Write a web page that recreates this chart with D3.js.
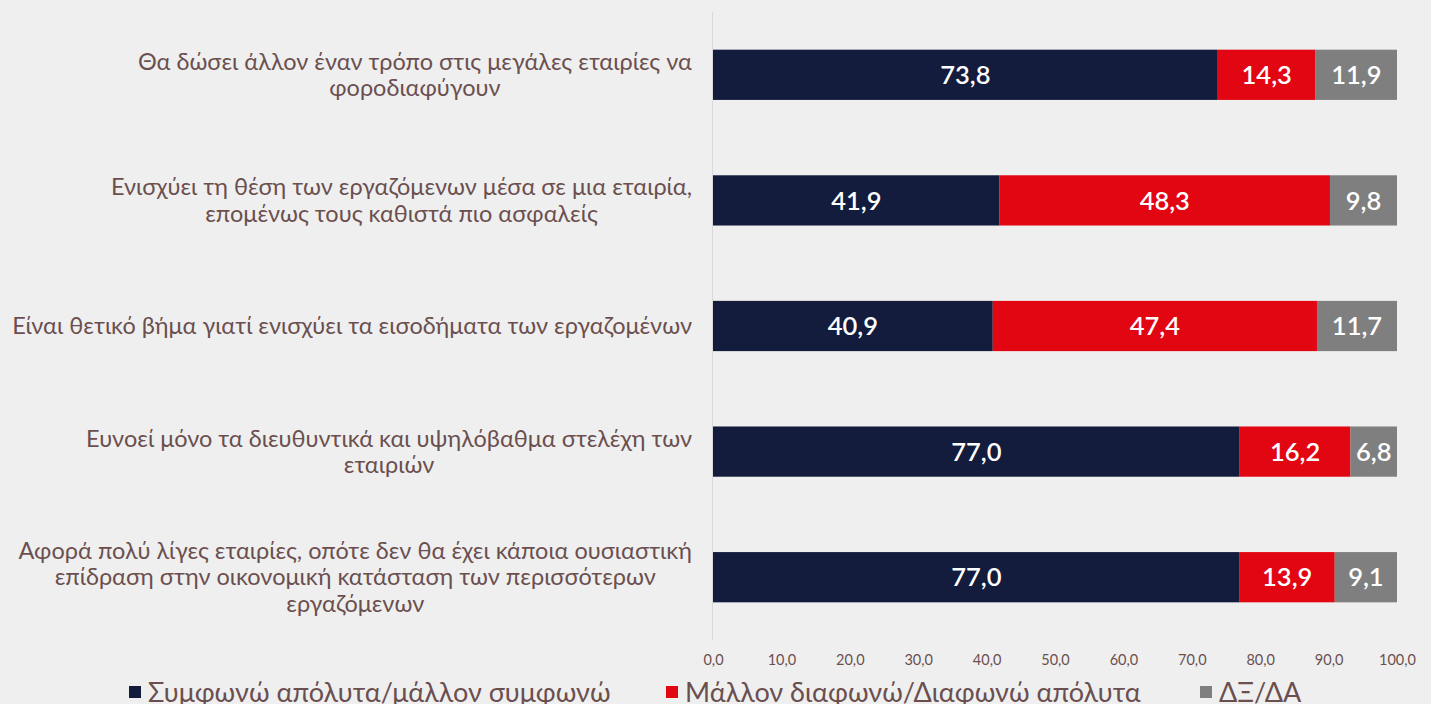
<!DOCTYPE html>
<html><head><meta charset="utf-8">
<script src="https://cdn.jsdelivr.net/npm/d3@7"></script>
<style>
html,body{margin:0;padding:0;background:#efefef;}
svg{display:block;}
</style></head>
<body>
<svg id="c" width="1431" height="704"></svg>
<script>
const categories = [
  ["Θα δώσει άλλον έναν τρόπο στις μεγάλες εταιρίες να", "φοροδιαφύγουν"],
  ["Ενισχύει τη θέση των εργαζόμενων μέσα σε μια εταιρία,", "επομένως τους καθιστά πιο ασφαλείς"],
  ["Είναι θετικό βήμα γιατί ενισχύει τα εισοδήματα των εργαζομένων"],
  ["Ευνοεί μόνο τα διευθυντικά και υψηλόβαθμα στελέχη των", "εταιριών"],
  ["Αφορά πολύ λίγες εταιρίες, οπότε δεν θα έχει κάποια ουσιαστική", "επίδραση στην οικονομική κατάσταση των περισσότερων", "εργαζόμενων"]
];
const seriesNames = ["Συμφωνώ απόλυτα/μάλλον συμφωνώ", "Μάλλον διαφωνώ/Διαφωνώ απόλυτα", "ΔΞ/ΔΑ"];
const agree = [73.8, 41.9, 40.9, 77.0, 77.0];
const disagree = [14.3, 48.3, 47.4, 16.2, 13.9];
const dkna = [11.9, 9.8, 11.7, 6.8, 9.1];
const xTicks = [0, 10, 20, 30, 40, 50, 60, 70, 80, 90, 100];
const colors = ["#141c3e", "#e10612", "#7f7f7f"];
const textColor = "#6b4f4f";

const svg = d3.select("#c");
const fmt = v => d3.format(".1f")(v).replace(".", ",");

const x = d3.scaleLinear().domain([0, 100]).range([713, 1397]);
const y = d3.scaleBand().domain(d3.range(categories.length)).range([12, 640]).paddingInner(0.6).paddingOuter(0.3);

const series = [agree, disagree, dkna];
const rows = categories.map((c, i) => ({i, vals: series.map(s => s[i])}));

// axis line
svg.append("line").attr("x1", 712.5).attr("x2", 712.5).attr("y1", 12).attr("y2", 640)
  .attr("stroke", "#d9d9d9").attr("stroke-width", 1);

// bars
rows.forEach(r => {
  let acc = 0;
  r.vals.forEach((v, k) => {
    const x0 = x(acc), x1 = x(acc + v);
    svg.append("rect").attr("x", x0).attr("y", y(r.i)).attr("width", x1 - x0).attr("height", y.bandwidth())
      .attr("fill", colors[k]);
    svg.append("text").attr("x", (x0 + x1) / 2).attr("y", y(r.i) + y.bandwidth() / 2)
      .attr("dy", "0.36em").attr("text-anchor", "middle")
      .attr("fill", "#fff").attr("font-family", "Lato").attr("font-weight", 600).attr("font-size", 25.5)
      .text(fmt(v));
    acc += v;
  });
});

// category labels
const lineH = 26.5;
categories.forEach((lines, i) => {
  const g = svg.append("g");
  const cy = y(i) + y.bandwidth() / 2;
  const texts = lines.map((l, j) => g.append("text")
    .attr("y", cy + (j - (lines.length - 1) / 2) * lineH)
    .attr("dy", "0.35em").attr("text-anchor", "middle")
    .attr("fill", textColor).attr("font-family", "Lato").attr("font-size", 23.5)
    .text(l));
  const maxW = d3.max(texts, t => t.node().getComputedTextLength());
  texts.forEach(t => t.attr("x", 692 - maxW / 2));
});

// x axis ticks
const axis = d3.axisBottom(x).tickValues(xTicks).tickFormat(fmt).tickSize(0).tickPadding(0);
const ag = svg.append("g").attr("transform", "translate(0,655)").call(axis);
ag.select(".domain").remove();
ag.selectAll("text").attr("fill", textColor).attr("font-family", "Lato").attr("font-size", 14.5);

// legend
const legX = [129, 666, 1200];
seriesNames.forEach((n, k) => {
  svg.append("rect").attr("x", legX[k]).attr("y", 686).attr("width", 12).attr("height", 12).attr("fill", colors[k]);
  svg.append("text").attr("x", legX[k] + 19).attr("y", 692).attr("dy", "0.36em")
    .attr("fill", textColor).attr("font-family", "Lato").attr("font-size", 27).text(n);
});
</script>
</body></html>
